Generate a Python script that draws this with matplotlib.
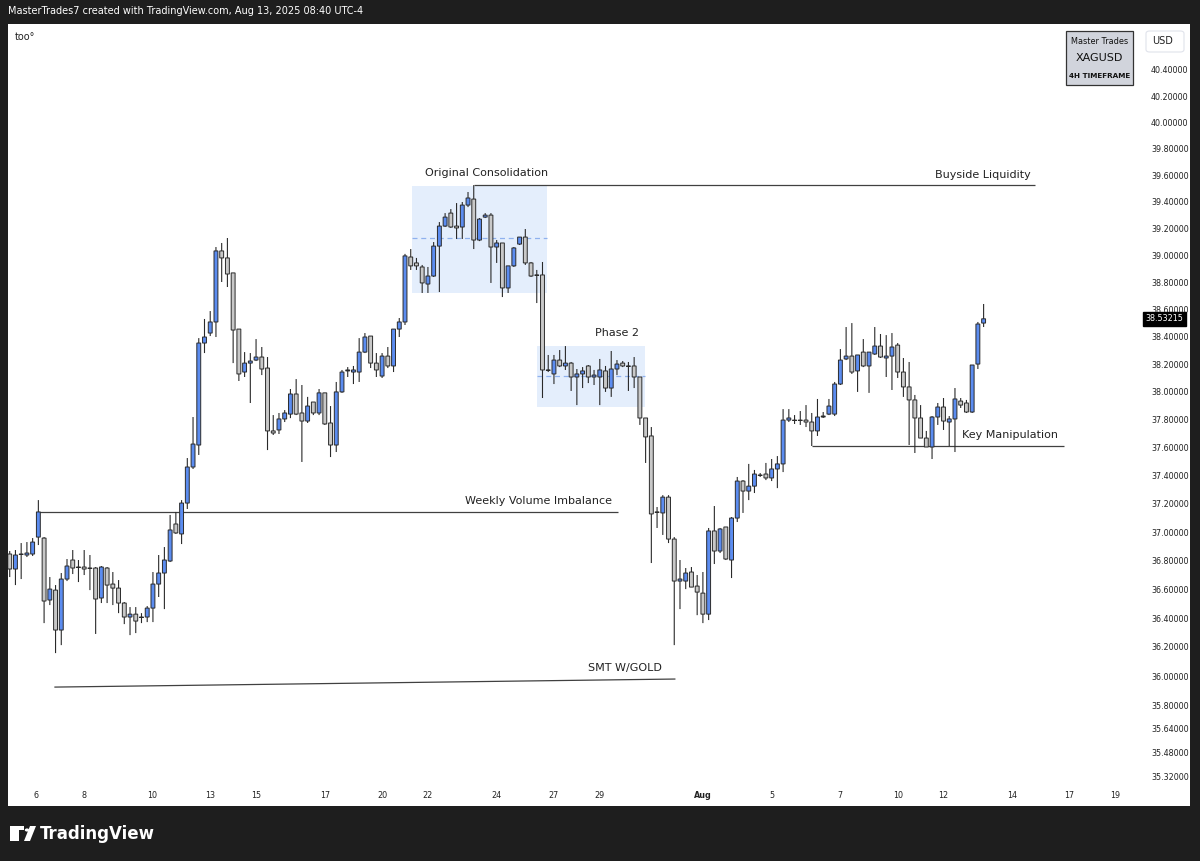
import numpy as np
import matplotlib
matplotlib.use('Agg')
import matplotlib.pyplot as plt
from matplotlib.patches import Rectangle, FancyBboxPatch, Circle, Polygon

# 4H XAGUSD candles
opens = [36.846, 36.741, 36.846, 36.839, 36.846, 36.965, 36.958, 36.525, 36.594, 36.317,
         36.671, 36.804, 36.755, 36.755, 36.748, 36.748, 36.539, 36.748, 36.636, 36.608,
         36.504, 36.407, 36.427, 36.407, 36.407, 36.469, 36.636, 36.713, 36.797, 37.057,
         36.987, 37.205, 37.461, 37.618, 38.355, 38.428, 38.509, 39.033, 38.981, 38.870,
         38.457, 38.144, 38.209, 38.231, 38.253, 38.173, 37.719, 37.726, 37.805, 37.840,
         37.985, 37.848, 37.790, 37.927, 37.848, 37.993, 37.776, 37.618, 38.000, 38.152,
         38.144, 38.144, 38.289, 38.406, 38.209, 38.115, 38.260, 38.188, 38.457, 38.509,
         38.988, 38.944, 38.914, 38.788, 38.847, 39.069, 39.218, 39.315, 39.218, 39.211,
         39.375, 39.420, 39.114, 39.285, 39.300, 39.062, 39.092, 38.759, 38.922, 39.084,
         39.136, 38.944, 38.855, 38.855, 38.159, 38.130, 38.231, 38.188, 38.209, 38.108,
         38.130, 38.188, 38.108, 38.108, 38.152, 38.028, 38.166, 38.209, 38.188, 38.188,
         38.108, 37.812, 37.683, 37.142, 37.135, 37.247, 36.951, 36.657, 36.657, 36.720,
         36.622, 36.573, 36.427, 37.008, 36.867, 37.036, 36.804, 37.099, 37.361, 37.290,
         37.325, 37.404, 37.411, 37.383, 37.447, 37.483, 37.797, 37.797, 37.797, 37.797,
         37.783, 37.719, 37.819, 37.840, 37.840, 38.057, 38.239, 38.260, 38.152, 38.289,
         38.188, 38.275, 38.333, 38.246, 38.260, 38.340, 38.144, 38.036, 37.942, 37.812,
         37.668, 37.604, 37.819, 37.891, 37.783, 37.805, 37.934, 37.920, 37.855, 38.202,
         38.501]
highs = [36.867, 36.874, 36.923, 36.930, 36.958, 37.226, 36.965, 36.685, 36.629, 36.713,
         36.811, 36.874, 36.804, 36.874, 36.839, 36.755, 36.762, 36.755, 36.720, 36.664,
         36.511, 36.476, 36.476, 36.434, 36.483, 36.720, 36.839, 36.895, 37.121, 37.142,
         37.226, 37.525, 37.819, 38.391, 38.531, 38.589, 39.062, 39.092, 39.129, 38.870,
         38.457, 38.289, 38.282, 38.384, 38.326, 38.253, 37.833, 37.848, 37.869, 38.021,
         38.093, 38.050, 37.964, 37.927, 38.021, 37.993, 37.898, 38.072, 38.159, 38.180,
         38.188, 38.391, 38.428, 38.406, 38.282, 38.282, 38.326, 38.457, 38.538, 39.011,
         39.047, 38.981, 38.929, 38.914, 39.099, 39.248, 39.315, 39.345, 39.390, 39.398,
         39.473, 39.525, 39.278, 39.315, 39.315, 39.114, 39.092, 38.922, 39.062, 39.136,
         39.196, 38.951, 38.892, 38.951, 38.268, 38.268, 38.304, 38.333, 38.217, 38.166,
         38.180, 38.195, 38.159, 38.239, 38.188, 38.297, 38.231, 38.224, 38.217, 38.253,
         38.108, 37.812, 37.747, 37.177, 37.261, 37.261, 36.965, 36.804, 36.748, 36.755,
         36.699, 36.720, 37.029, 37.184, 37.029, 37.036, 37.106, 37.390, 37.368, 37.483,
         37.440, 37.418, 37.490, 37.518, 37.539, 37.876, 37.876, 37.833, 37.862, 37.905,
         37.848, 37.949, 37.855, 37.949, 38.072, 38.311, 38.472, 38.501, 38.268, 38.384,
         38.289, 38.472, 38.421, 38.413, 38.428, 38.355, 38.246, 38.217, 37.978, 37.905,
         37.719, 37.826, 37.920, 37.956, 37.826, 38.028, 37.956, 37.942, 38.195, 38.509,
         38.641]
lows = [36.685, 36.629, 36.671, 36.825, 36.832, 36.909, 36.365, 36.490, 36.158, 36.213,
        36.657, 36.706, 36.650, 36.699, 36.594, 36.290, 36.504, 36.504, 36.490, 36.434,
        36.358, 36.282, 36.296, 36.365, 36.372, 36.372, 36.546, 36.462, 36.790, 36.987,
        36.916, 37.163, 37.447, 37.547, 38.282, 38.406, 38.399, 38.803, 38.766, 38.209,
        38.079, 38.108, 37.920, 38.224, 38.122, 37.582, 37.690, 37.697, 37.783, 37.811,
        37.833, 37.497, 37.776, 37.833, 37.833, 37.762, 37.532, 37.568, 37.993, 38.108,
        38.057, 38.072, 38.282, 38.173, 38.108, 38.101, 38.173, 38.144, 38.399, 38.487,
        38.892, 38.892, 38.722, 38.722, 38.840, 38.729, 39.211, 39.204, 39.122, 39.122,
        39.360, 39.047, 39.106, 39.278, 38.796, 38.944, 38.692, 38.722, 38.914, 39.077,
        38.929, 38.840, 38.648, 37.956, 38.144, 38.057, 38.180, 38.159, 38.007, 37.905,
        38.028, 38.064, 38.050, 37.905, 38.000, 37.964, 38.122, 38.180, 38.007, 38.028,
        37.762, 37.490, 36.783, 37.029, 36.980, 36.923, 36.213, 36.462, 36.601, 36.615,
        36.420, 36.365, 36.386, 36.776, 36.853, 36.804, 36.678, 37.071, 37.135, 37.226,
        37.276, 37.390, 37.368, 37.361, 37.311, 37.425, 37.783, 37.769, 37.762, 37.747,
        37.611, 37.683, 37.812, 37.833, 37.826, 38.050, 38.231, 38.130, 38.000, 38.180,
        37.993, 38.268, 38.246, 38.108, 38.014, 38.101, 37.964, 37.618, 37.561, 37.668,
        37.604, 37.518, 37.762, 37.726, 37.611, 37.568, 37.884, 37.848, 37.848, 38.166,
        38.472]
closes = [36.741, 36.839, 36.843, 36.853, 36.930, 37.142, 36.518, 36.601, 36.317, 36.671,
          36.762, 36.748, 36.752, 36.741, 36.745, 36.532, 36.755, 36.629, 36.608, 36.504,
          36.407, 36.427, 36.379, 36.404, 36.469, 36.636, 36.713, 36.804, 37.015, 36.994,
          37.205, 37.461, 37.625, 38.355, 38.399, 38.509, 39.033, 38.981, 38.862, 38.450,
          38.130, 38.209, 38.224, 38.253, 38.166, 37.719, 37.704, 37.805, 37.848, 37.985,
          37.840, 37.790, 37.898, 37.848, 37.993, 37.769, 37.618, 38.000, 38.144, 38.159,
          38.159, 38.289, 38.399, 38.209, 38.159, 38.260, 38.188, 38.457, 38.509, 38.996,
          38.922, 38.922, 38.796, 38.847, 39.069, 39.218, 39.285, 39.211, 39.204, 39.375,
          39.428, 39.114, 39.270, 39.300, 39.062, 39.092, 38.759, 38.922, 39.055, 39.136,
          38.944, 38.847, 38.852, 38.159, 38.156, 38.231, 38.188, 38.209, 38.108, 38.130,
          38.152, 38.108, 38.122, 38.159, 38.028, 38.166, 38.202, 38.188, 38.185, 38.108,
          37.812, 37.676, 37.128, 37.139, 37.247, 36.951, 36.657, 36.671, 36.713, 36.615,
          36.580, 36.427, 37.008, 36.867, 37.022, 36.811, 37.099, 37.361, 37.290, 37.325,
          37.411, 37.401, 37.383, 37.447, 37.483, 37.797, 37.812, 37.794, 37.794, 37.783,
          37.719, 37.819, 37.826, 37.898, 38.057, 38.231, 38.260, 38.144, 38.268, 38.188,
          38.289, 38.333, 38.253, 38.260, 38.326, 38.144, 38.036, 37.942, 37.812, 37.668,
          37.604, 37.819, 37.891, 37.790, 37.805, 37.949, 37.905, 37.855, 38.195, 38.494,
          38.53215]

price_ticks = [40.4, 40.2, 40.0, 39.8, 39.6, 39.4, 39.2, 39.0, 38.8, 38.6, 38.4, 38.2,
               38.0, 37.8, 37.6, 37.4, 37.2, 37.0, 36.8, 36.6, 36.4, 36.2, 36.0, 35.8,
               35.64, 35.48, 35.32]
date_pos = [4.6, 13, 24.8, 35, 43, 55, 65, 73, 85, 95, 103, 121, 133, 145, 155, 163, 175, 185, 193]
date_labels = ['6', '8', '10', '13', '15', '17', '20', '22', '24', '27', '29', 'Aug',
               '5', '7', '10', '12', '14', '17', '19']
last_price = 38.53215

BG = '#1e1e1e'
BLUE = '#5b8cf0'
GREY = '#c8c8c8'
EDGE = '#2a2a2a'
LINE = '#404040'
BOX = '#e4eefc'
DASH = '#8fb1ee'

W, H = 1200, 861
fig = plt.figure(figsize=(12, 8.61), dpi=100, facecolor=BG)

def fx(px):
    return px / W

def fy(py):
    return 1 - py / H

# white chart panel
fig.patches.append(Rectangle((fx(8), fy(806)), fx(1182), (806 - 24) / H,
                             transform=fig.transFigure, facecolor='white', edgecolor='none', zorder=-5))

ax = fig.add_axes([fx(8), fy(785), fx(1132), (785 - 24) / H])
ax.set_facecolor('none')
ax.set_yscale('log')
ax.set_ylim(35.262, 40.755)
ax.set_xlim(-0.3, 197.3)
for s in ax.spines.values():
    s.set_visible(False)

idx = np.arange(len(opens))
o = np.array(opens)
c = np.array(closes)
up = c >= o
colors = np.where(up, BLUE, GREY)
wicks = ax.vlines(idx, lows, highs, color=EDGE, lw=0.8, zorder=3)
wicks.set_snap(False)
bottoms = np.minimum(o, c)
heights = np.maximum(np.abs(c - o), 0.002)
bars = ax.bar(idx, heights, bottom=bottoms, width=0.68, color=colors, edgecolor=EDGE,
              linewidth=0.7, zorder=4)
for b in bars:
    b.set_snap(False)

# Original consolidation box
ax.add_patch(Rectangle((70.2, 38.722), 93.8 - 70.2, 39.518 - 38.722, facecolor=BOX,
                       edgecolor='none', zorder=1))
ax.hlines(39.129, 70.2, 93.8, colors=DASH, linestyles=(0, (4, 3)), lw=0.9, zorder=2)
ax.text(83.3, 39.614, 'Original Consolidation', ha='center', va='center', fontsize=8,
        color='#222222', zorder=5)

# Phase 2 box
ax.add_patch(Rectangle((92.0, 37.891), 110.9 - 92.0, 38.333 - 37.891, facecolor=BOX,
                       edgecolor='none', zorder=1))
ax.hlines(38.115, 92.0, 110.9, colors=DASH, linestyles=(0, (4, 3)), lw=0.9, zorder=2)
ax.text(106.0, 38.428, 'Phase 2', ha='center', va='center', fontsize=8, color='#222222', zorder=5)

# Buyside liquidity
ax.hlines(39.525, 81, 178.9, colors=LINE, lw=0.9, zorder=2)
ax.text(178.3, 39.600, 'Buyside Liquidity', ha='right', va='center', fontsize=8,
        color='#222222', zorder=5)

# Weekly volume imbalance
ax.hlines(37.142, 5, 106.2, colors=LINE, lw=0.9, zorder=2)
ax.text(105.1, 37.219, 'Weekly Volume Imbalance', ha='right', va='center', fontsize=8,
        color='#222222', zorder=5)

# Key manipulation
ax.hlines(37.611, 140, 184.0, colors=LINE, lw=0.9, zorder=2)
ax.text(166.2, 37.690, 'Key Manipulation', ha='left', va='center', fontsize=8,
        color='#222222', zorder=5)

# SMT
ax.plot([7.9, 116.1], [35.925, 35.980], color=LINE, lw=0.9, zorder=2)
ax.text(107.4, 36.055, 'SMT W/GOLD', ha='center', va='center', fontsize=8,
        color='#222222', zorder=5)

# axes ticks
ax.yaxis.tick_right()
ax.set_yticks(price_ticks)
ax.set_yticklabels(['%.5f' % t for t in price_ticks])
ax.yaxis.set_minor_locator(matplotlib.ticker.NullLocator())
ax.tick_params(axis='y', length=0, pad=8, labelsize=5.8, labelcolor='#222222')
ax.set_xticks(date_pos)
ax.set_xticklabels(date_labels)
ax.tick_params(axis='x', length=0, pad=4, labelsize=5.8, labelcolor='#222222')
for lab in ax.get_xticklabels():
    if lab.get_text() == 'Aug':
        lab.set_fontweight('bold')

# last price label
ax.text(1.005, last_price, '%.5f' % last_price, transform=ax.get_yaxis_transform(),
        ha='left', va='center', fontsize=5.8, color='white', zorder=6,
        bbox=dict(boxstyle='square,pad=0.3', facecolor='black', edgecolor='black'))

# header
fig.text(fx(8), fy(11), 'MasterTrades7 created with TradingView.com, Aug 13, 2025 08:40 UTC-4',
         ha='left', va='center', fontsize=7, color='white')
fig.text(fx(15), fy(37), 'too°', ha='left', va='center', fontsize=7, color='#222222')

# USD button
fig.patches.append(FancyBboxPatch((fx(1146), fy(52)), fx(38), 21 / H,
                                  boxstyle='round,pad=0,rounding_size=0.003',
                                  transform=fig.transFigure, facecolor='white',
                                  edgecolor='#e0e3eb', lw=0.8))
fig.text(fx(1163), fy(41), 'USD', ha='center', va='center', fontsize=7, color='#222222')

# watermark box
fig.patches.append(Rectangle((fx(1066), fy(85)), fx(67), 54 / H, transform=fig.transFigure,
                             facecolor='#d1d4dc', edgecolor='#333333', lw=0.9))
fig.text(fx(1099.5), fy(41), 'Master Trades', ha='center', va='center', fontsize=5.9, color='#111111')
fig.text(fx(1099.5), fy(58), 'XAGUSD', ha='center', va='center', fontsize=8, color='#111111')
fig.text(fx(1099.5), fy(76), '4H TIMEFRAME', ha='center', va='center', fontsize=5.2,
         color='#111111', fontweight='bold')

# TradingView logo
fig.patches.append(Rectangle((fx(10), fy(841)), fx(9), 11 / H, transform=fig.transFigure,
                             facecolor='white', edgecolor='none'))
fig.patches.append(Rectangle((fx(10), fy(830)), fx(14), 4 / H, transform=fig.transFigure,
                             facecolor='white', edgecolor='none'))
fig.patches.append(Circle((fx(27), fy(830)), 2.2 / W, transform=fig.transFigure,
                          facecolor='white', edgecolor='none'))
fig.patches.append(Polygon([(fx(30), fy(826)), (fx(36), fy(826)), (fx(30), fy(841)),
                            (fx(24), fy(841))], closed=True, transform=fig.transFigure,
                           facecolor='white', edgecolor='none'))
fig.text(fx(40), fy(834), 'TradingView', ha='left', va='center', fontsize=12,
         color='white', fontweight='bold')

fig.savefig('out.png', dpi=100, facecolor=BG)
